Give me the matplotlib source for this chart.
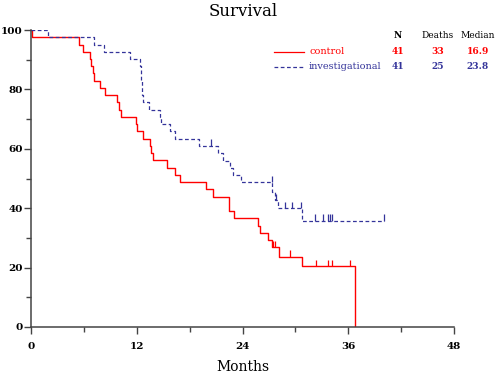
import matplotlib
matplotlib.use("Agg")
import matplotlib.pyplot as plt
import numpy as np

# Kaplan-Meier steps (months, % surviving)
ctrl_t = [0, 0.1, 5.4, 5.85, 6.7, 6.8, 6.98, 7.17, 7.85, 8.4, 9.74, 10.0, 10.2,
          11.9, 12.07, 12.7, 13.55, 13.65, 13.8, 15.4, 16.3, 16.9, 19.9, 20.6,
          22.45, 22.5, 23.05, 25.8, 26.0, 26.9, 27.35, 28.1, 30.7, 36.8]
ctrl_s = [100, 97.6, 95.1, 92.7, 90.2, 87.8, 85.4, 82.9, 80.5, 78.0, 75.6, 73.2, 70.7,
          68.3, 65.9, 63.4, 61.0, 58.5, 56.1, 53.7, 51.2, 48.8, 46.3, 43.9,
          41.5, 39.0, 36.6, 34.1, 31.7, 29.3, 26.8, 23.7, 20.5, 0]
ctrl_cens = [27.5, 27.7, 29.4, 32.3, 33.7, 34.2, 36.2]

inv_t = [0, 1.9, 7.2, 8.3, 11.2, 12.4, 12.45, 12.5, 12.6, 12.65, 12.75, 13.4,
         14.6, 14.8, 15.8, 16.3, 19.1, 21.2, 21.75, 22.6, 22.9, 23.8, 27.4,
         27.7, 28.0, 30.8, 40.1]
inv_s = [100, 97.6, 95.1, 92.7, 90.2, 87.8, 85.4, 82.9, 80.5, 78.0, 75.6, 73.2,
         70.7, 68.3, 65.9, 63.4, 61.0, 58.5, 56.0, 53.6, 51.1, 48.7, 45.5,
         42.7, 40.0, 35.8, 35.8]
inv_cens = [20.4, 27.3, 27.8, 28.8, 29.6, 30.6, 32.2, 33.1, 33.7, 33.9, 34.1, 40.1]

groups = ["control", "investigational"]
n_pat = ["41", "41"]
deaths = ["33", "25"]
medians = ["16.9", "23.8"]

RED = "#ff0000"
BLUE = "#34349a"

plt.rcParams["font.family"] = ["DejaVu Serif"]

fig = plt.figure(figsize=(4.96, 3.76), dpi=100)
ax = fig.add_axes([31 / 496, 1 - 327 / 376, 423 / 496, 297 / 376])


def level_at(times, surv, x):
    i = np.searchsorted(times, x, side="right") - 1
    return np.array(surv)[i]


ax.step(ctrl_t, ctrl_s, where="post", color=RED, lw=1.0)
ax.step(inv_t, inv_s, where="post", color=BLUE, lw=0.9, linestyle=(0, (3, 2)))

cy = level_at(ctrl_t, ctrl_s, ctrl_cens)
ax.vlines(ctrl_cens, cy, cy + 2.2, color=RED, lw=0.9)
iy = level_at(inv_t, inv_s, inv_cens)
ax.vlines(inv_cens, iy, iy + 2.2, color=BLUE, lw=0.9)

ax.set_xlim(0, 48)
ax.set_ylim(0, 100)
ax.set_xticks([0, 12, 24, 36, 48])
ax.set_xticks([6, 18, 30, 42], minor=True)
ax.set_yticks([0, 20, 40, 60, 80, 100])
ax.set_yticks([10, 30, 50, 70, 90], minor=True)
for s in ["top", "right"]:
    ax.spines[s].set_visible(False)
for s in ["left", "bottom"]:
    ax.spines[s].set_color("#444444")
    ax.spines[s].set_linewidth(1.1)
ax.tick_params(which="major", length=5, width=1.0, color="#444444", labelsize=7.5, pad=1)
ax.tick_params(which="minor", length=3.5, width=1.0, color="#444444")
ax.tick_params(axis="x", pad=6)
for lab in ax.get_xticklabels() + ax.get_yticklabels():
    lab.set_fontweight("bold")

fig.text(243 / 496, 1 - 12 / 376, "Survival", ha="center", va="center", fontsize=12)
fig.text(243 / 496, 1 - 367 / 376, "Months", ha="center", va="center", fontsize=10)

# legend table
colors = [RED, BLUE]
styles = ["-", (0, (3, 2))]
rows_y = [51.7, 66.7]
fs = 6.5
fig.text(398 / 496, 1 - 36 / 376, "N", ha="center", va="center", fontsize=fs, weight="bold")
fig.text(438 / 496, 1 - 36 / 376, "Deaths", ha="center", va="center", fontsize=fs)
fig.text(478 / 496, 1 - 36 / 376, "Median", ha="center", va="center", fontsize=fs)
for i in range(2):
    yy = 1 - rows_y[i] / 376
    fig.add_artist(plt.Line2D([274 / 496, 304 / 496], [yy, yy], color=colors[i],
                              lw=0.9, linestyle=styles[i]))
    fig.text(309 / 496, yy, groups[i], ha="left", va="center", fontsize=fs + 0.5, color=colors[i])
    fig.text(398 / 496, yy, n_pat[i], ha="center", va="center", fontsize=fs, color=colors[i], weight="bold")
    fig.text(438 / 496, yy, deaths[i], ha="center", va="center", fontsize=fs, color=colors[i], weight="bold")
    fig.text(478 / 496, yy, medians[i], ha="center", va="center", fontsize=fs, color=colors[i], weight="bold")

fig.savefig("out.png", dpi=100)
